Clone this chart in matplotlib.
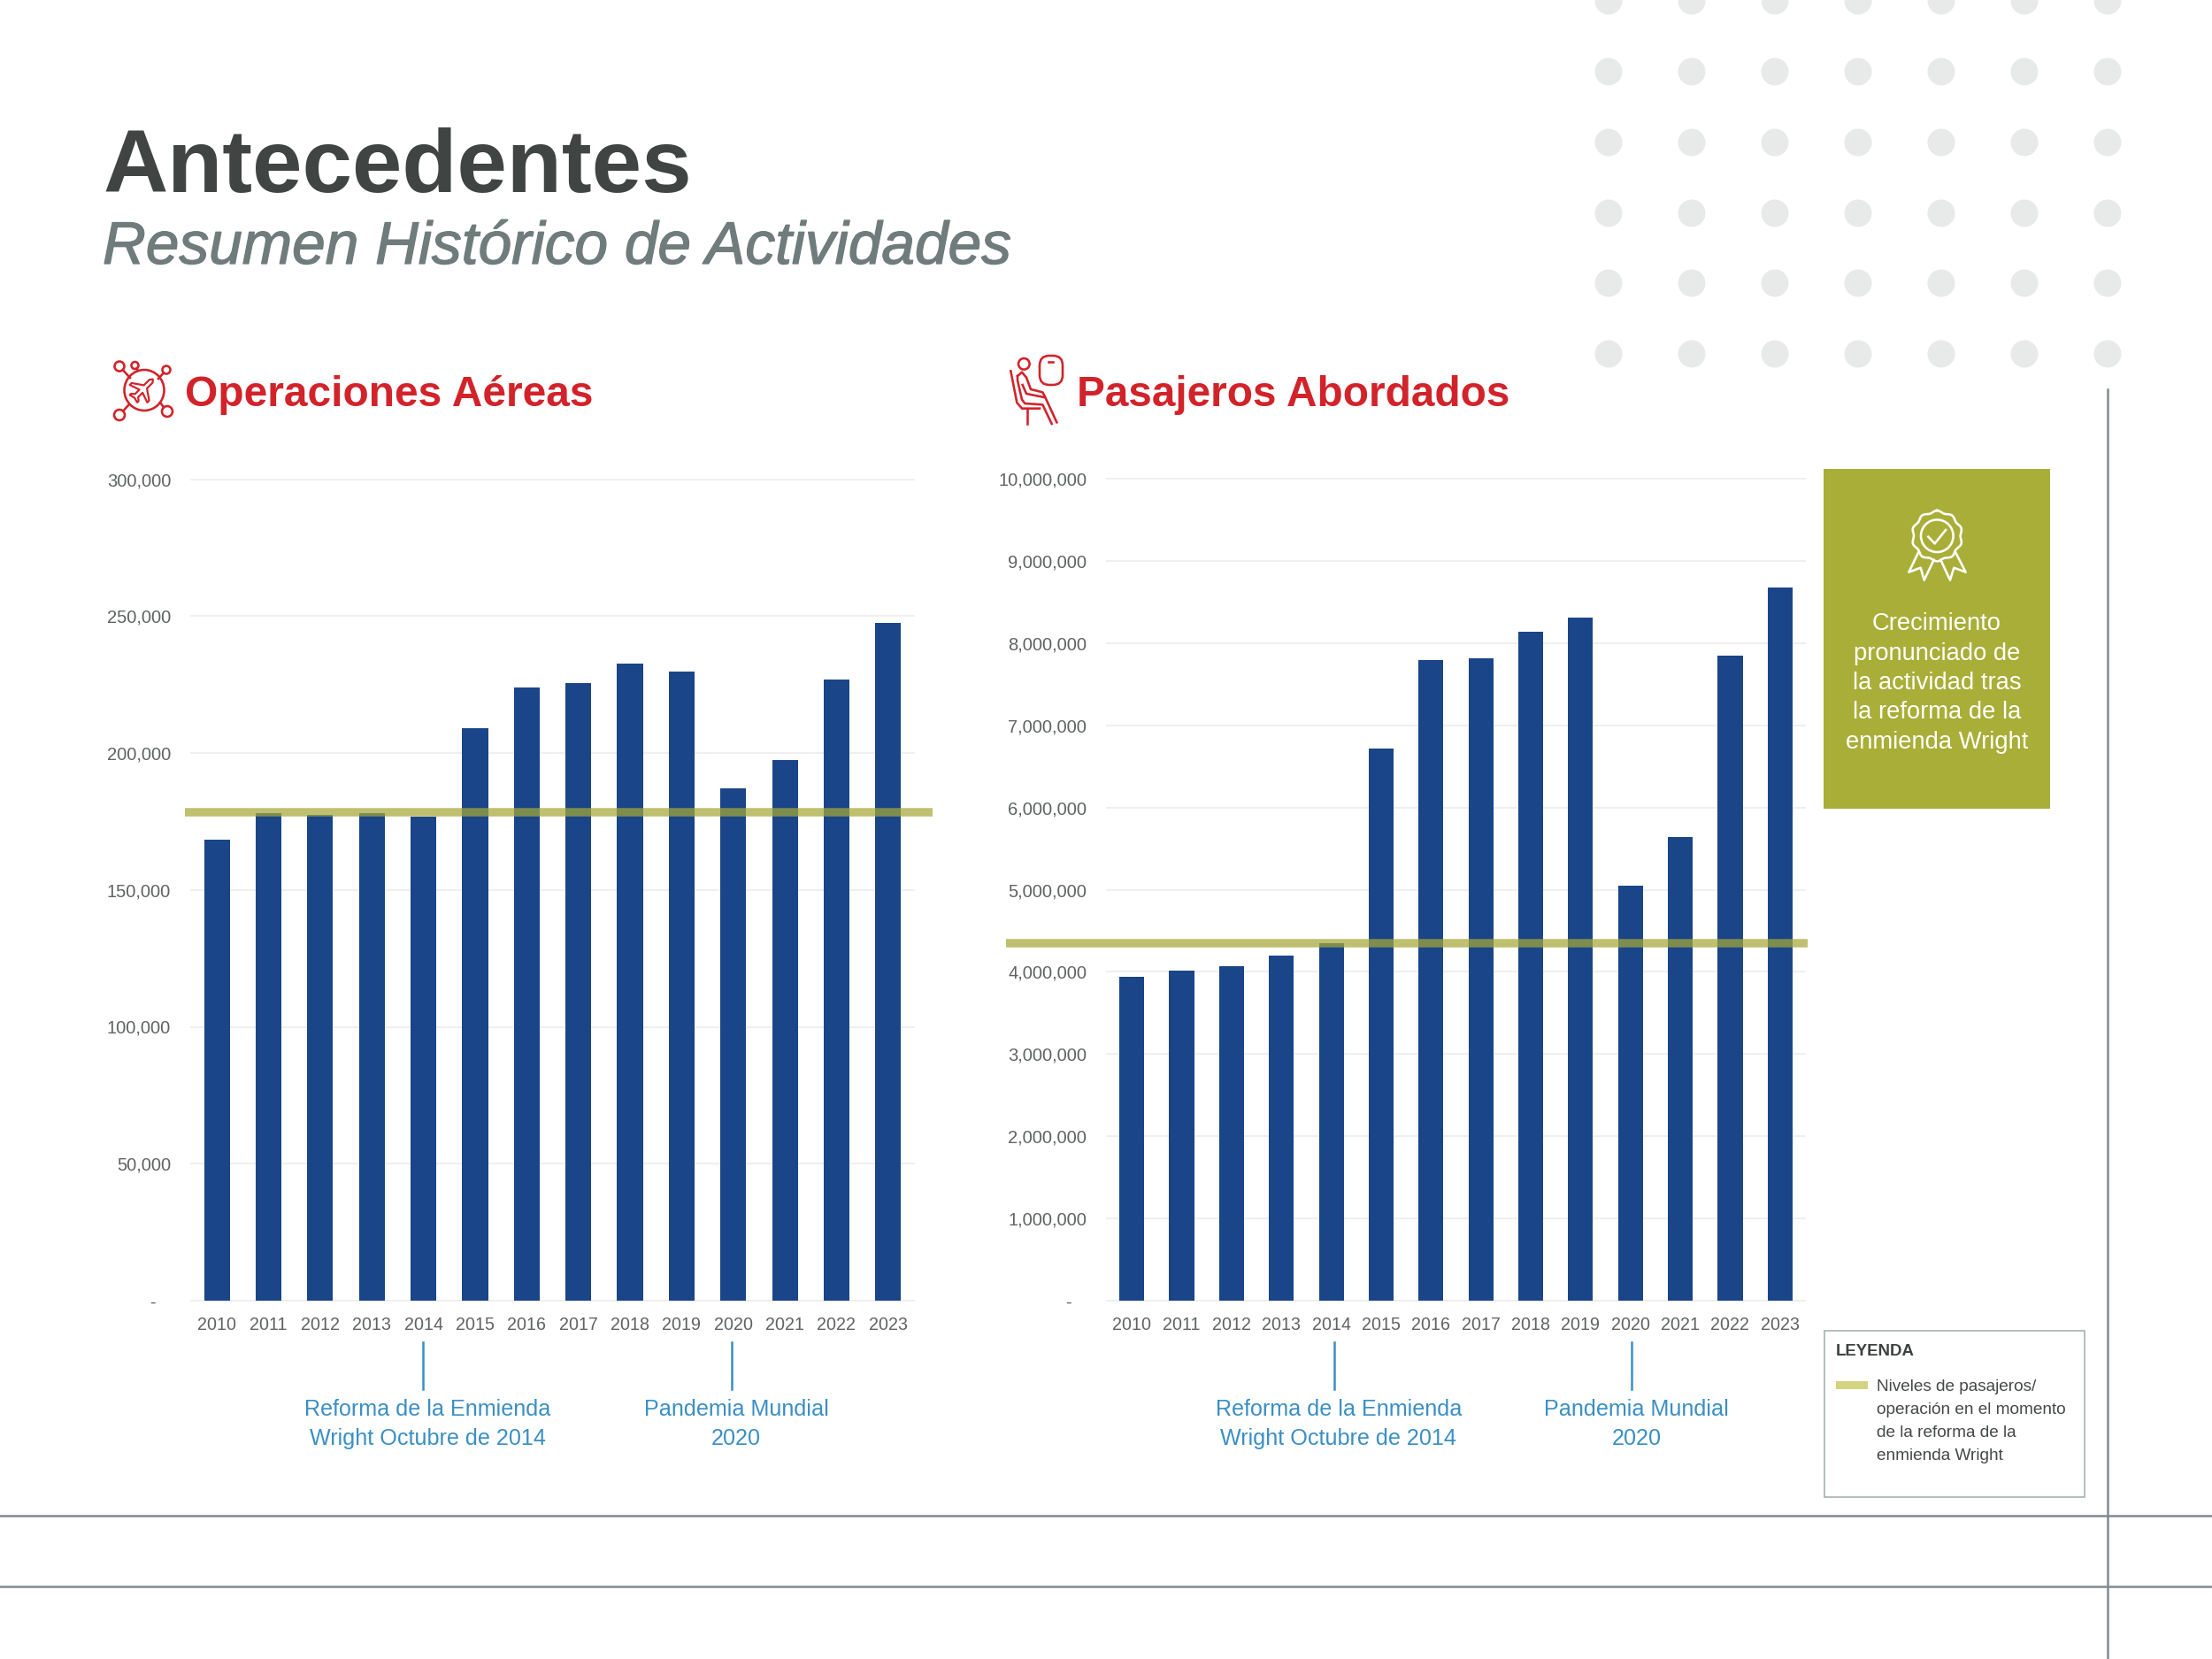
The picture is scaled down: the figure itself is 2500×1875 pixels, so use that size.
import numpy as np
import matplotlib
matplotlib.use('Agg')
import matplotlib.pyplot as plt
import matplotlib.patheffects as pe
from matplotlib.patches import Circle, Ellipse, Rectangle, FancyBboxPatch, Polygon
from matplotlib.ticker import FixedLocator, FixedFormatter

plt.rcParams['font.family'] = ['Liberation Sans', 'DejaVu Sans']

YEARS = ['2010', '2011', '2012', '2013', '2014', '2015', '2016', '2017', '2018', '2019', '2020', '2021', '2022', '2023']
OPERACIONES = [168200, 177900, 177300, 178100, 176600, 209100, 223900, 225600, 232500, 229700, 187100, 197500, 226700, 247600]
PASAJEROS = [3943000, 4015000, 4069000, 4198000, 4352000, 6718000, 7788000, 7817000, 8140000, 8310000, 5052000, 5641000, 7846000, 8680000]
NIVEL_OPERACIONES = 178200
NIVEL_PASAJEROS = 4352000
TICKS_OPERACIONES = [0, 50000, 100000, 150000, 200000, 250000, 300000]
TICKS_PASAJEROS = [0, 1000000, 2000000, 3000000, 4000000, 5000000, 6000000, 7000000, 8000000, 9000000, 10000000]
EVENTOS = ['Reforma de la Enmienda\nWright Octubre de 2014', 'Pandemia Mundial\n2020']
EVENTOS_YEARS = ['2014', '2020']
LEYENDA_TEXT = ['Niveles de pasajeros/', 'operación en el momento', 'de la reforma de la', 'enmienda Wright']
CALLOUT_TEXT = ['Crecimiento', 'pronunciado de', 'la actividad tras', 'la reforma de la', 'enmienda Wright']

W, H = 2500, 1875
DPI = 200
NAVY = '#1A4588'
OLIVE = '#A6A838'
RED = '#D2232A'
BLUE = '#3A8FC4'
GRID = '#EFEFEF'
FRAME = '#7F8C8D'


def px(size):
    # pixel size to points
    return size * 72 / DPI


def chart(fig, box, values, level, ticks, line_span, text_x, nudge):
    left, top, right, bottom = box
    ax = fig.add_axes([left / W, 1 - bottom / H, (right - left) / W, (bottom - top) / H])
    ax.patch.set_alpha(0)
    x = np.arange(len(YEARS))
    ax.bar(x, values, width=0.5, color=NAVY, zorder=3)
    ax.set_xlim(-0.5, len(YEARS) - 0.5)
    ax.set_ylim(0, ticks[-1])
    for s in ax.spines.values():
        s.set_visible(False)
    ax.xaxis.set_major_locator(FixedLocator(x))
    ax.xaxis.set_major_formatter(FixedFormatter(YEARS))
    ax.yaxis.set_major_locator(FixedLocator(ticks))
    ax.yaxis.set_major_formatter(FixedFormatter(['-   '] + [f'{t:,}' for t in ticks[1:]]))
    ax.tick_params(axis='x', length=0, pad=6.5, labelsize=px(19.7), labelcolor='#5F6362')
    ax.tick_params(axis='y', length=0, pad=8.2, labelsize=px(20.1), labelcolor='#5F6362')
    ax.grid(axis='y', color=GRID, lw=px(2), zorder=0)
    ax.set_axisbelow(True)
    for g in ax.get_ygridlines():
        g.set_clip_on(False)
    ax.plot(line_span, [level, level], color=OLIVE, alpha=0.72, lw=px(9.5),
            solid_capstyle='butt', zorder=5, clip_on=False)

    # event markers under the axis
    trans = ax.get_xaxis_transform()
    for year, label, tx, dx in zip(EVENTOS_YEARS, EVENTOS, text_x, nudge):
        pos = YEARS.index(year) + dx
        y0 = -(1516.5 - bottom) / (bottom - top)
        y1 = -(1570 - bottom) / (bottom - top)
        ax.plot([pos, pos], [y0, y1], transform=trans, color=BLUE, lw=px(2.5), clip_on=False)
        for i, part in enumerate(label.split('\n')):
            fig.text(tx / W, 1 - (1592.5 + i * 33.5) / H, part, ha='center', va='center',
                     fontsize=px(25.2), color=BLUE)
    return ax


def plane_icon(bg):
    c = RED
    lw = px(2.6)
    bg.add_patch(Ellipse((163, 441), 45, 46, fill=False, ec=c, lw=lw))
    nodes = [(135, 414, 5.5, 147, 427), (152.5, 413, 4, 156, 419), (188, 418, 4.5, 179, 428),
             (135, 469, 6, 146, 457), (189, 465, 6, 181, 455)]
    for nx, ny, r, ex, ey in nodes:
        bg.add_patch(Circle((nx, ny), r, fill=False, ec=c, lw=lw))
        d = np.hypot(ex - nx, ey - ny)
        bg.plot([nx + (ex - nx) * r / d, ex], [ny + (ey - ny) * r / d, ey], color=c, lw=lw)
    shape = np.array([(0, -16), (2.5, -13), (2.5, -4), (14, 4), (14, 7), (2.5, 3), (2.5, 10),
                      (6, 13), (6, 15), (0, 13.5), (-6, 15), (-6, 13), (-2.5, 10), (-2.5, 3),
                      (-14, 7), (-14, 4), (-2.5, -4), (-2.5, -13)])
    a = np.radians(45)
    rot = np.array([[np.cos(a), -np.sin(a)], [np.sin(a), np.cos(a)]])
    bg.add_patch(Polygon(shape @ rot.T + [161.5, 440], closed=True, fill=False, ec=c, lw=px(2.2), joinstyle='round'))


def seat_icon(bg):
    c = RED
    lw = px(2.6)

    def crop(points):
        p = np.array(points, dtype=float) / 3
        return p[:, 0] + 1100, p[:, 1] + 380

    bg.add_patch(Circle((1157.3, 411.3), 6.3, fill=False, ec=c, lw=lw))
    bg.add_patch(FancyBboxPatch((1181, 408), 14, 21, boxstyle='round,pad=6,rounding_size=11', fill=False, ec=c, lw=lw))
    strokes = [
        [(255, 86), (270, 86)],
        [(150, 135), (165, 122), (180, 140), (195, 180), (235, 190), (243, 205), (283, 292)],
        [(150, 135), (150, 150), (165, 215), (175, 228), (235, 232), (266, 297)],
        [(167, 165), (180, 195), (240, 207)],
        [(127, 118), (148, 225), (165, 245), (225, 245)],
        [(184, 245), (184, 296)],
    ]
    for s in strokes:
        xs, ys = crop(s)
        bg.plot(xs, ys, color=c, lw=lw, solid_joinstyle='round')


def rosette_icon(bg):
    c = 'white'
    lw = px(2.6)
    cx, cy = 2189.3, 605.7
    t = np.linspace(0, 2 * np.pi, 400)
    r = 27.5 + 1.2 * np.cos(10 * t)
    bg.plot(cx + r * np.sin(t), cy - r * np.cos(t), color=c, lw=lw)
    bg.add_patch(Circle((cx, cy), 18.3, fill=False, ec=c, lw=lw))
    strokes = [
        [(418, 290), (440, 313), (477, 267)],
        [(385, 342), (352, 410), (392, 395), (404, 437), (437, 368)],
        [(460, 368), (492, 437), (505, 395), (545, 410), (510, 342)],
    ]
    for s in strokes:
        p = np.array(s, dtype=float) / 3
        bg.plot(p[:, 0] + 2040, p[:, 1] + 510, color=c, lw=lw, solid_joinstyle='round')


def main():
    fig = plt.figure(figsize=(W / DPI, H / DPI), dpi=DPI, facecolor='white')
    bg = fig.add_axes([0, 0, 1, 1])
    bg.set_xlim(0, W)
    bg.set_ylim(H, 0)
    bg.axis('off')

    # dot pattern
    for dx in [1818, 1912, 2006, 2100, 2194, 2288, 2382]:
        for dy in [1, 81, 161, 241, 320, 400]:
            bg.add_patch(Circle((dx, dy), 15.5, color='#E8E9E9', lw=0))

    # frame lines
    bg.plot([2382, 2382], [440, H], color=FRAME, lw=px(2.5))
    bg.plot([0, W], [1713, 1713], color=FRAME, lw=px(2.5))
    bg.plot([0, W], [1793, 1793], color=FRAME, lw=px(2.5))

    # headings
    bg.text(116, 217, 'Antecedentes', fontsize=px(101.5), color='#404443', weight='bold', ha='left', va='baseline')
    t = bg.text(116, 298, 'Resumen Histórico de Actividades', fontsize=px(67.6), color='#6F7C7B',
                style='italic', ha='left', va='baseline')
    t.set_path_effects([pe.withStroke(linewidth=px(1.3), foreground='#6F7C7B')])
    bg.text(209, 459, 'Operaciones Aéreas', fontsize=px(47.9), color=RED, weight='bold', ha='left', va='baseline')
    bg.text(1217, 459, 'Pasajeros Abordados', fontsize=px(47.8), color=RED, weight='bold', ha='left', va='baseline')
    plane_icon(bg)
    seat_icon(bg)

    # callout
    bg.add_patch(Rectangle((2061, 529.5), 256, 384, color='#A9AE38', lw=0))
    rosette_icon(bg)
    for i, line in enumerate(CALLOUT_TEXT):
        bg.text(2189, 705 + i * 33.5, line, fontsize=px(27.4), color='white', ha='center', va='center')

    # legend
    bg.add_patch(Rectangle((2061.7, 1504), 294.3, 188, fill=False, ec='#A5AEAE', lw=px(1.6)))
    bg.text(2075, 1527.5, 'LEYENDA', fontsize=px(18.6), weight='bold', color='#3D4241', ha='left', va='center')
    bg.add_patch(Rectangle((2074.7, 1561), 36, 9, color='#D3D27F', lw=0))
    for i, line in enumerate(LEYENDA_TEXT):
        bg.text(2120.7, 1567.5 + i * 26, line, fontsize=px(19), color='#444847', ha='left', va='center')

    chart(fig, (216, 541.5, 1033, 1470), OPERACIONES, NIVEL_OPERACIONES, TICKS_OPERACIONES,
          [-0.62, 13.86], [483.3, 832.2], [-0.01, -0.03])
    chart(fig, (1251, 541, 2040, 1470), PASAJEROS, NIVEL_PASAJEROS, TICKS_PASAJEROS,
          [-2.53, 13.56], [1512.7, 1849.4], [0.06, 0.03])

    fig.savefig('out.png', dpi=DPI)


if __name__ == '__main__':
    main()
